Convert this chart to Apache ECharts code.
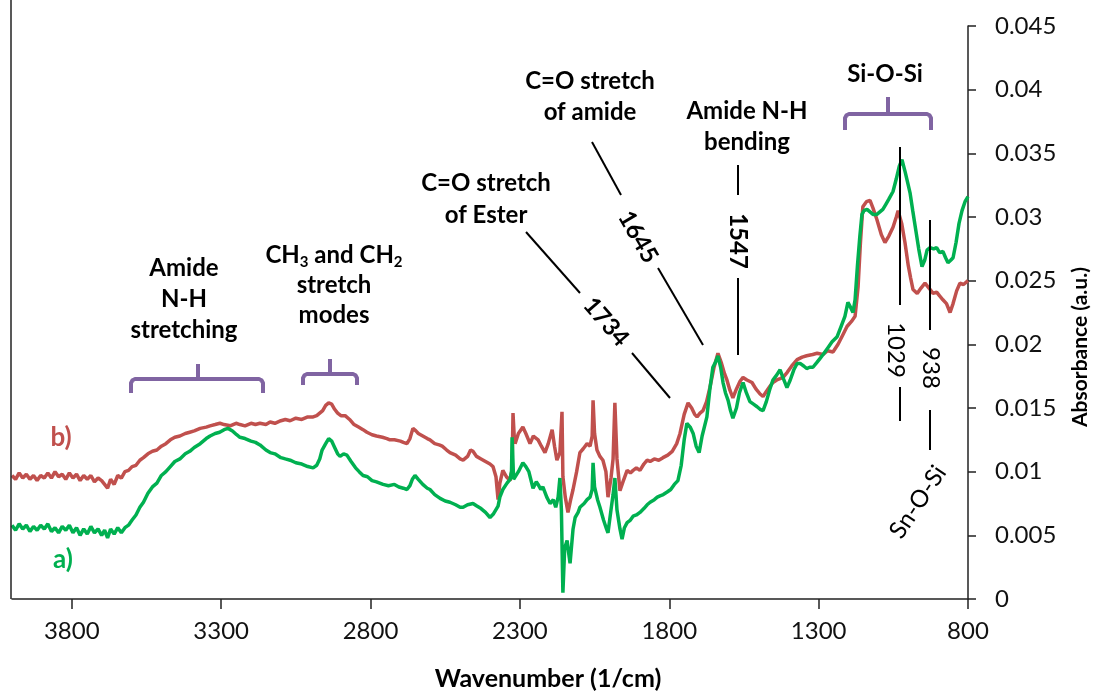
<!DOCTYPE html>
<html>
<head>
<meta charset="utf-8">
<script src="https://cdn.jsdelivr.net/npm/echarts@6/dist/echarts.min.js"></script>
<style>
html,body{margin:0;padding:0;background:#fff;}
#chart{width:1093px;height:694px;}
</style>
</head>
<body>
<div id="chart"></div>
<script>
// ---- data ----
const xTicks = [3800, 3300, 2800, 2300, 1800, 1300, 800];
const yTicks = [0, 0.005, 0.01, 0.015, 0.02, 0.025, 0.03, 0.035, 0.04, 0.045];

// series a) (green)
const aWave = [4000,3988,3976,3964,3952,3940,3928,3916,3904,3892,3880,3868,3856,3844,3832,3820,3808,3796,3784,3772,3760,3748,3736,3724,3712,3700,3690,3680,3670,3658,3646,3634,3622,3610,
3598,3585,3572,3560,3545,3530,3515,3500,3485,3470,3455,3438,3420,3405,3390,3370,3350,3337,3320,3305,3290,3277,3262,3248,3237,3220,3200,3185,3170,3150,3136,3120,3100,3085,3069,3050,3030,3010,
2992,2980,2970,2962,2950,2940,2930,2920,2910,2902,2890,2879,2865,2850,2838,2825,2810,2795,2780,2758,2740,2720,2705,2690,2678,2668,2660,2651,2640,2625,2610,2601,2585,2567,2550,2534,2515,2500,
2490,2475,2457,2444,2430,2415,2400,2388,2378,2373,2367,2357,2343,2333,2328,2326,2321,2316,2305,2290,2280,2270,2256,2245,2239,2230,2223,2210,2199,2188,2180,2172,2166,2161,2156,2150,2142,2136,
2132,2122,2115,2105,2099,2085,2075,2065,2058,2055,2050,2040,2032,2020,2010,2005,1995,1988,1982,1975,1965,1958,1950,1941,1930,1921,1910,1898,1885,1874,1864,1850,1840,1831,1820,1807,1795,1783,
1771,1760,1750,1741,1730,1720,1710,1700,1690,1674,1664,1654,1645,1637,1628,1620,1612,1603,1595,1587,1575,1565,1553,1542,1530,1518,1506,1496,1486,1475,1463,1453,1440,1429,1418,1406,1395,1383,
1372,1362,1350,1340,1330,1319,1305,1295,1285,1270,1255,1238,1225,1212,1202,1193,1185,1178,1170,1162,1155,1148,1138,1128,1118,1105,1095,1085,1075,1065,1051,1040,1030,1021,1010,1000,994,985,
975,965,954,945,937,927,915,905,895,884,875,867,858,850,840,830,820,810,800];
const aAbs = [.0058,.0054,.0059,.0055,.0058,.0053,.0057,.0054,.0058,.0055,.0059,.0053,.0056,.0052,.0057,.0054,.0058,.0052,.0056,.0050,.0055,.0051,.0057,.0052,.0055,.0050,.0054,.0048,.0055,.0051,.0056,.0052,.0056,.0058,
.0062,.0066,.0072,.0076,.0083,.0088,.0091,.0097,.0100,.0104,.0108,.0110,.0114,.0116,.0119,.0122,.0126,.0128,.0130,.0131,.0133,.0134,.0132,.0129,.0127,.0126,.0124,.0123,.0121,.0117,.0115,.0114,.0111,.0110,.0109,.0107,.0106,.0104,
.0103,.0105,.0110,.0117,.0122,.0126,.0124,.0119,.0114,.0112,.0114,.0113,.0108,.0103,.0100,.0097,.0096,.0093,.0092,.0090,.0089,.0090,.0088,.0087,.0086,.0089,.0094,.0097,.0094,.0090,.0087,.0086,.0082,.0079,.0077,.0076,.0074,.0072,
.0072,.0074,.0075,.0073,.0071,.0068,.0064,.0067,.0071,.0073,.0080,.0086,.0091,.0094,.0100,.0127,.0094,.0093,.0100,.0107,.0104,.0100,.0087,.0092,.0090,.0086,.0088,.0080,.0075,.0078,.0072,.0080,.0095,.0070,.0005,.0040,.0046,.0035,
.0028,.0055,.0064,.0068,.0072,.0075,.0078,.0080,.0086,.0107,.0088,.0078,.0072,.0062,.0055,.0052,.0070,.0082,.0095,.0070,.0055,.0047,.0056,.0060,.0062,.0065,.0066,.0068,.0071,.0074,.0076,.0078,.0080,.0081,.0082,.0084,.0086,.0090,
.0093,.0105,.0125,.0138,.0135,.0130,.0120,.0115,.0128,.0143,.0165,.0182,.0186,.0191,.0182,.0170,.0162,.0156,.0148,.0142,.0150,.0162,.0170,.0162,.0155,.0153,.0151,.0149,.0148,.0155,.0165,.0172,.0176,.0180,.0173,.0166,.0172,.0180,
.0185,.0185,.0183,.0181,.0182,.0182,.0186,.0189,.0192,.0197,.0202,.0206,.0214,.0222,.0233,.0229,.0225,.0235,.0262,.0285,.0302,.0305,.0306,.0304,.0302,.0302,.0304,.0306,.0310,.0314,.0320,.0330,.0340,.0345,.0335,.0325,.0319,.0305,
.0290,.0275,.0261,.0266,.0274,.0276,.0275,.0276,.0272,.0273,.0268,.0264,.0266,.0268,.0280,.0295,.0305,.0312,.0316];

// series b) (red)
const bWave = [4000,3988,3976,3964,3952,3940,3928,3916,3904,3892,3880,3868,3856,3844,3832,3820,3808,3796,3784,3772,3760,3748,3736,3724,3712,3700,3690,3680,3670,3658,3646,3634,3622,3610,
3598,3585,3572,3560,3545,3530,3515,3500,3485,3470,3455,3438,3420,3405,3390,3370,3350,3337,3320,3304,3290,3270,3250,3237,3220,3200,3185,3170,3150,3136,3120,3100,3085,3069,3050,3030,3010,
2992,2980,2970,2960,2950,2940,2930,2920,2910,2899,2885,2870,2855,2840,2825,2812,2795,2780,2760,2745,2735,2720,2700,2690,2678,2668,2658,2648,2640,2625,2610,2601,2585,2570,2560,2545,2534,2515,2500,
2490,2475,2465,2457,2445,2430,2415,2400,2390,2380,2373,2367,2357,2345,2333,2326,2323,2319,2316,2305,2290,2280,2266,2255,2239,2228,2216,2205,2192,2184,2176,2166,2159,2156,2148,2139,2130,2122,
2110,2099,2088,2075,2065,2058,2055,2050,2042,2032,2022,2012,2005,1995,1988,1982,1975,1965,1955,1941,1930,1921,1910,1898,1885,1874,1864,1850,1835,1821,1805,1790,1775,1764,1750,1737,1725,1715,
1707,1697,1687,1675,1664,1650,1637,1625,1615,1607,1597,1587,1575,1563,1553,1540,1523,1510,1496,1486,1475,1463,1453,1440,1429,1419,1405,1390,1372,1355,1340,1320,1305,1285,1270,1252,1235,1220,
1205,1190,1178,1168,1160,1152,1140,1128,1118,1105,1090,1078,1065,1051,1040,1034,1022,1011,1000,992,984,970,958,944,930,917,905,895,884,872,860,850,838,827,815,800];
const bAbs = [.0097,.0094,.0099,.0095,.0098,.0094,.0097,.0093,.0097,.0095,.0099,.0095,.0100,.0096,.0098,.0094,.0099,.0095,.0098,.0093,.0097,.0094,.0097,.0092,.0095,.0093,.0090,.0087,.0094,.0090,.0097,.0095,.0100,.0101,
.0104,.0105,.0109,.0111,.0114,.0116,.0117,.0120,.0122,.0125,.0127,.0128,.0130,.0131,.0132,.0134,.0135,.0136,.0137,.0138,.0137,.0136,.0138,.0137,.0136,.0138,.0137,.0138,.0137,.0139,.0138,.0140,.0141,.0140,.0142,.0141,.0143,
.0143,.0144,.0146,.0148,.0152,.0154,.0153,.0149,.0146,.0144,.0144,.0141,.0137,.0135,.0133,.0131,.0129,.0128,.0127,.0126,.0125,.0125,.0124,.0123,.0122,.0126,.0134,.0132,.0130,.0128,.0126,.0125,.0122,.0121,.0120,.0117,.0115,.0113,.0110,
.0109,.0112,.0117,.0116,.0112,.0110,.0108,.0106,.0104,.0096,.0078,.0091,.0101,.0096,.0093,.0102,.0146,.0128,.0122,.0130,.0135,.0130,.0122,.0128,.0125,.0120,.0115,.0122,.0133,.0120,.0109,.0115,.0147,.0096,.0080,.0068,.0078,.0086,
.0100,.0115,.0118,.0122,.0120,.0128,.0156,.0130,.0117,.0112,.0109,.0100,.0080,.0095,.0110,.0154,.0110,.0085,.0092,.0101,.0099,.0101,.0103,.0101,.0106,.0109,.0108,.0110,.0109,.0111,.0113,.0116,.0122,.0130,.0145,.0154,.0150,.0145,
.0143,.0146,.0148,.0155,.0166,.0182,.0193,.0185,.0177,.0172,.0164,.0158,.0165,.0171,.0174,.0172,.0170,.0165,.0161,.0159,.0163,.0167,.0170,.0172,.0173,.0174,.0178,.0183,.0188,.0190,.0191,.0192,.0193,.0192,.0195,.0194,.0200,.0207,
.0214,.0218,.0222,.0245,.0280,.0308,.0312,.0313,.0307,.0298,.0286,.0280,.0285,.0292,.0300,.0305,.0295,.0280,.0262,.0252,.0243,.0240,.0244,.0248,.0244,.0240,.0241,.0238,.0235,.0232,.0225,.0232,.0242,.0248,.0247,.0250];

const zip = (xs, ys) => xs.map((x, i) => [x, ys[i]]);

const chart = echarts.init(document.getElementById('chart'), null, {renderer: 'canvas'});

const FONT = 'Lato';
const BLACK = '#000';
const PURPLE = '#8064a2';

function txt(x, y, text, opts) {
  opts = opts || {};
  return {
    type: 'text', x: x, y: y, rotation: opts.rotation || 0, z: 10,
    style: {
      text: text, fill: opts.color || BLACK,
      fontSize: opts.size || 24, fontWeight: opts.weight || 'bold', fontFamily: FONT,
      align: 'center', verticalAlign: 'middle', lineHeight: opts.lh || 31,
      rich: opts.rich
    }
  };
}
function ln(x1, y1, x2, y2, color, w) {
  return {type: 'line', z: 10, shape: {x1: x1, y1: y1, x2: x2, y2: y2},
    style: {stroke: color || BLACK, lineWidth: w || 2, lineCap: 'butt'}};
}
function bracket(x1, x2, yTop, yEnd, xm, yMid) {
  return [
    {type: 'polyline', z: 10, shape: {points: [[x1, yEnd], [x1, yTop + 4], [x1 + 1.5, yTop + 1.2], [x1 + 4, yTop], [x2 - 4, yTop], [x2 - 1.5, yTop + 1.2], [x2, yTop + 4], [x2, yEnd]]},
      style: {stroke: PURPLE, lineWidth: 4, fill: null, lineJoin: 'round'}},
    ln(xm, yTop, xm, yMid, PURPLE, 4)
  ];
}
const D = Math.PI / 180;

const graphics = [
  ln(11, 0, 11, 599, '#222', 1.5),
  // text annotations
  txt(184, 299, 'Amide\nN-H\nstretching'),
  {type: 'text', x: 334, y: 255, z: 10, style: {text: 'CH{s|3} and CH{s|2}', fill: BLACK, fontSize: 24, fontWeight: 'bold', fontFamily: FONT,
    align: 'center', verticalAlign: 'middle', lineHeight: 30,
    rich: {s: {fontSize: 15, fontWeight: 'bold', fontFamily: FONT, fill: BLACK, verticalAlign: 'bottom', lineHeight: 15}}}},
  txt(334, 300, 'stretch\nmodes', {lh: 30}),
  txt(486, 199, 'C=O stretch\nof Ester', {lh: 32}),
  txt(590, 97, 'C=O stretch\nof amide', {lh: 31}),
  txt(747, 127, 'Amide N-H\nbending', {lh: 31}),
  txt(885, 74, 'Si-O-Si'),
  txt(606, 322, '1734', {rotation: -49 * D}),
  txt(638, 237, '1645', {rotation: -60 * D}),
  txt(738, 241, '1547', {rotation: -90 * D}),
  txt(896, 350, '1029', {rotation: -90 * D, weight: 'normal'}),
  txt(931, 368, '938', {rotation: -90 * D, weight: 'normal'}),
  txt(918, 502, 'Sn-O-Si', {rotation: 56 * D, weight: 'normal'}),
  txt(61, 438, 'b)', {size: 26, color: '#c0504d'}),
  txt(63, 560, 'a)', {size: 26, color: '#00b050'}),
  txt(548, 679, 'Wavenumber (1/cm)', {size: 25}),
  txt(1080, 347, 'Absorbance (a.u.)', {size: 21, rotation: 90 * D}),
  // leader lines
  ln(526, 232, 580, 293), ln(632, 353, 670, 398),
  ln(592, 142, 621, 195), ln(658, 268, 703, 345),
  ln(738, 165, 738, 195), ln(738, 278, 738, 355),
  ln(900, 147, 900, 305), ln(900, 387, 900, 421),
  ln(930, 220, 930, 330), ln(930, 410, 930, 450)
].concat(
  bracket(131, 263, 379, 393, 198, 364),
  bracket(303, 357, 374, 385, 330, 359),
  bracket(845, 931, 114, 130, 888, 97)
);

const option = {
  animation: false,
  backgroundColor: '#fff',
  grid: {left: 12, right: 125, top: 26, bottom: 95, containLabel: false},
  xAxis: {
    type: 'value', inverse: true, min: 800, max: 4000, interval: 500,
    axisLine: {show: true, lineStyle: {color: '#222', width: 1.5}},
    axisTick: {show: true, length: 10, lineStyle: {color: '#222', width: 1.5}, customValues: xTicks},
    axisLabel: {show: true, margin: 20, color: '#111', fontSize: 24, fontFamily: FONT, customValues: xTicks,
      formatter: v => String(v)},
    splitLine: {show: false}
  },
  yAxis: {
    type: 'value', position: 'right', min: 0, max: 0.045, interval: 0.005,
    axisLine: {show: true, lineStyle: {color: '#222', width: 1.5}},
    axisTick: {show: true, length: 8, lineStyle: {color: '#222', width: 1.5}},
    axisLabel: {show: true, margin: 27, color: '#111', fontSize: 24, fontFamily: FONT, align: 'left',
      customValues: yTicks, formatter: v => String(+v.toFixed(3))},
    splitLine: {show: false}
  },
  series: [
    {name: 'b)', type: 'line', data: zip(bWave, bAbs), showSymbol: false, symbol: 'none',
      lineStyle: {color: '#c0504d', width: 3.5}, itemStyle: {color: '#c0504d'}, z: 2},
    {name: 'a)', type: 'line', data: zip(aWave, aAbs), showSymbol: false, symbol: 'none',
      lineStyle: {color: '#00b050', width: 3.5}, itemStyle: {color: '#00b050'}, z: 3}
  ],
  graphic: {elements: graphics}
};
chart.setOption(option);
</script>
</body>
</html>
